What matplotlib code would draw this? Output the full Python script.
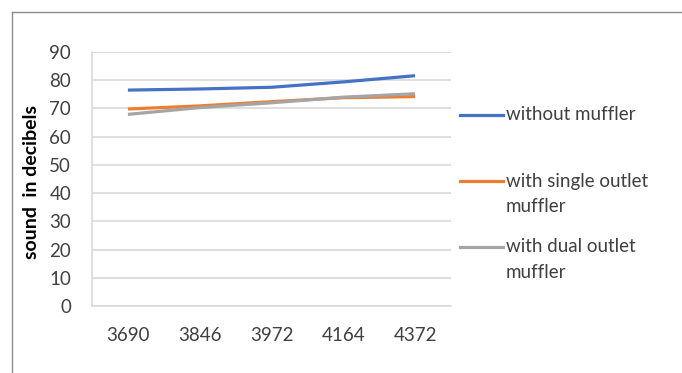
import matplotlib
matplotlib.use("Agg")
import matplotlib.pyplot as plt
from matplotlib.lines import Line2D

plt.rcParams['font.family'] = ['Lato', 'DejaVu Sans']

# engine speed categories (rpm) and measured sound levels (dB)
rpm = ["3690", "3846", "3972", "4164", "4372"]
without_muffler = [76.5, 76.9, 77.5, 79.4, 81.6]
single_outlet = [69.8, 70.9, 72.4, 73.8, 74.2]
dual_outlet = [67.9, 70.3, 72.0, 74.0, 75.2]

series = [
    ("without muffler", without_muffler, "#4472C4"),
    ("with single outlet\nmuffler", single_outlet, "#ED7D31"),
    ("with dual outlet\nmuffler", dual_outlet, "#A5A5A5"),
]

W, H = 682, 373
fig = plt.figure(figsize=(W / 100, H / 100), dpi=100)
ax = fig.add_axes([92 / W, 1 - 306 / H, 359 / W, 254 / H])

x = list(range(len(rpm)))
for name, vals, col in series:
    ax.plot(x, vals, color=col, lw=2.3, solid_capstyle="butt")

ax.set_xlim(-0.5, len(rpm) - 0.5)
ax.set_ylim(0, 90)
ax.set_yticks(range(0, 91, 10))
ax.set_xticks(x)
ax.set_xticklabels(rpm)
ax.tick_params(axis="both", length=0, labelsize=13.5, colors="#404040")
ax.tick_params(axis="x", pad=15)
ax.tick_params(axis="y", pad=15)
ax.grid(axis="y", color="#D9D9D9", lw=1.2)
ax.set_axisbelow(True)
for s in ("top", "right"):
    ax.spines[s].set_visible(False)
for s in ("left", "bottom"):
    ax.spines[s].set_color("#D9D9D9")
    ax.spines[s].set_linewidth(1.2)

ax.set_ylabel("sound  in decibels", fontsize=14, fontweight="bold", color="black")
ax.yaxis.set_label_coords((40 - 92) / 359, 0.49)

# legend drawn beside the plot area: (row centre in px, series index)
legend_rows = [(115, 0), (181, 1), (247, 2)]
for ypix, i in legend_rows:
    name, vals, col = series[i]
    yf = 1 - ypix / H
    fig.add_artist(Line2D([460 / W, 503 / W], [yf, yf], color=col, lw=2.3,
                          transform=fig.transFigure))
    for k, ln in enumerate(name.split("\n")):
        fig.text(506 / W, 1 - (ypix + 26 * k) / H, ln, fontsize=13.5,
                 color="#404040", va="center", ha="left")

# chart frame
fig.add_artist(Line2D([12 / W, 12 / W], [0, 1 - 12 / H], color="#8C8C8C", lw=1.0,
                      transform=fig.transFigure))
fig.add_artist(Line2D([12 / W, 1], [1 - 12 / H, 1 - 12 / H], color="#8C8C8C", lw=1.0,
                      transform=fig.transFigure))

fig.savefig("out.png", dpi=100)
